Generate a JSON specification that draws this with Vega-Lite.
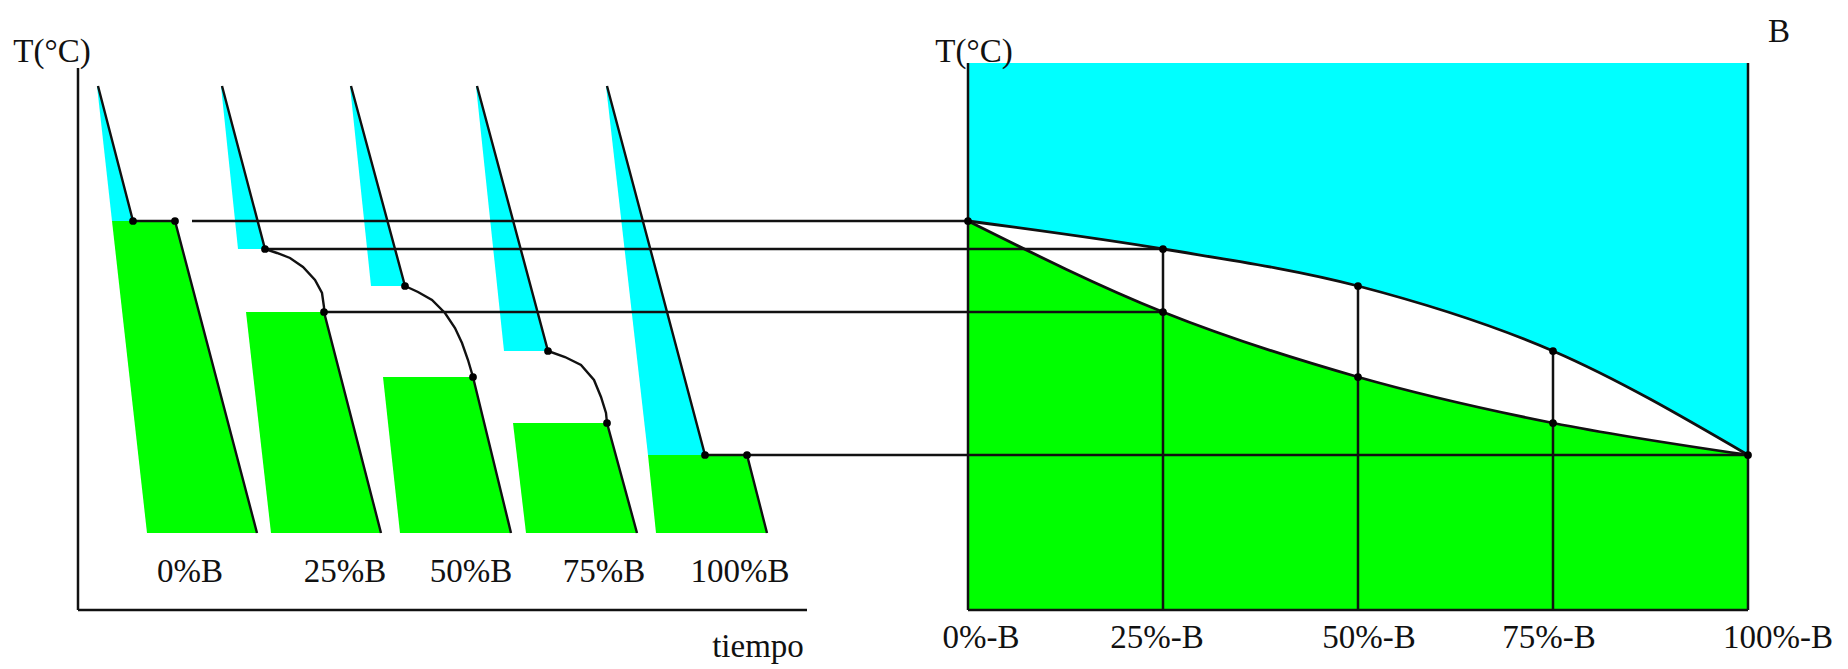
{
  "$schema": "https://vega.github.io/schema/vega-lite/v6.json",
  "width": 1848,
  "height": 669,
  "autosize": {"type": "fit", "contains": "padding"},
  "padding": 0,
  "background": "white",
  "config": {"view": {"stroke": null}},
  "datasets": {
    "bounds": [
      {"b": "liq", "x": 968, "T": 448},
      {"b": "liq", "x": 1163, "T": 420},
      {"b": "liq", "x": 1358, "T": 383},
      {"b": "liq", "x": 1553, "T": 318},
      {"b": "liq", "x": 1748, "T": 214},
      {"b": "sol", "x": 968, "T": 448},
      {"b": "sol", "x": 1163, "T": 357},
      {"b": "sol", "x": 1358, "T": 292},
      {"b": "sol", "x": 1553, "T": 246},
      {"b": "sol", "x": 1748, "T": 214}
    ],
    "blobs": [
      {"id": "c1", "phase": "L", "T": 583, "xl": 97, "xr": 98},
      {"id": "c1", "phase": "L", "T": 448, "xl": 112, "xr": 133},
      {"id": "s1", "phase": "S", "T": 448, "xl": 112, "xr": 175},
      {"id": "s1", "phase": "S", "T": 136, "xl": 147, "xr": 257},
      {"id": "c2", "phase": "L", "T": 583, "xl": 221, "xr": 222},
      {"id": "c2", "phase": "L", "T": 420, "xl": 238, "xr": 265},
      {"id": "s2", "phase": "S", "T": 357, "xl": 246, "xr": 324},
      {"id": "s2", "phase": "S", "T": 136, "xl": 271, "xr": 381},
      {"id": "c3", "phase": "L", "T": 583, "xl": 350, "xr": 351},
      {"id": "c3", "phase": "L", "T": 383, "xl": 371, "xr": 405},
      {"id": "s3", "phase": "S", "T": 292, "xl": 383, "xr": 473},
      {"id": "s3", "phase": "S", "T": 136, "xl": 400, "xr": 511},
      {"id": "c4", "phase": "L", "T": 583, "xl": 476, "xr": 477},
      {"id": "c4", "phase": "L", "T": 318, "xl": 504, "xr": 548},
      {"id": "s4", "phase": "S", "T": 246, "xl": 513, "xr": 607},
      {"id": "s4", "phase": "S", "T": 136, "xl": 526, "xr": 637},
      {"id": "c5", "phase": "L", "T": 583, "xl": 606, "xr": 607},
      {"id": "c5", "phase": "L", "T": 214, "xl": 648, "xr": 705},
      {"id": "s5", "phase": "S", "T": 214, "xl": 648, "xr": 747},
      {"id": "s5", "phase": "S", "T": 136, "xl": 656, "xr": 767}
    ],
    "curves": [
      {"curve": 1, "seq": 1, "x": 98, "T": 583},
      {"curve": 1, "seq": 2, "x": 133, "T": 448},
      {"curve": 1, "seq": 3, "x": 175, "T": 448},
      {"curve": 1, "seq": 4, "x": 257, "T": 136},
      {"curve": 2, "seq": 1, "x": 222, "T": 583},
      {"curve": 2, "seq": 2, "x": 265, "T": 420},
      {"curve": 2, "seq": 3, "x": 277, "T": 416},
      {"curve": 2, "seq": 4, "x": 290, "T": 411},
      {"curve": 2, "seq": 5, "x": 303, "T": 402},
      {"curve": 2, "seq": 6, "x": 315, "T": 389},
      {"curve": 2, "seq": 7, "x": 322, "T": 376},
      {"curve": 2, "seq": 8, "x": 324, "T": 362},
      {"curve": 2, "seq": 9, "x": 324, "T": 357},
      {"curve": 2, "seq": 10, "x": 381, "T": 136},
      {"curve": 3, "seq": 1, "x": 351, "T": 583},
      {"curve": 3, "seq": 2, "x": 405, "T": 383},
      {"curve": 3, "seq": 3, "x": 418, "T": 377},
      {"curve": 3, "seq": 4, "x": 432, "T": 369},
      {"curve": 3, "seq": 5, "x": 445, "T": 356},
      {"curve": 3, "seq": 6, "x": 455, "T": 341},
      {"curve": 3, "seq": 7, "x": 462, "T": 326},
      {"curve": 3, "seq": 8, "x": 468, "T": 309},
      {"curve": 3, "seq": 9, "x": 473, "T": 292},
      {"curve": 3, "seq": 10, "x": 511, "T": 136},
      {"curve": 4, "seq": 1, "x": 477, "T": 583},
      {"curve": 4, "seq": 2, "x": 548, "T": 318},
      {"curve": 4, "seq": 3, "x": 565, "T": 312},
      {"curve": 4, "seq": 4, "x": 581, "T": 304},
      {"curve": 4, "seq": 5, "x": 594, "T": 289},
      {"curve": 4, "seq": 6, "x": 601, "T": 272},
      {"curve": 4, "seq": 7, "x": 606, "T": 256},
      {"curve": 4, "seq": 8, "x": 607, "T": 246},
      {"curve": 4, "seq": 9, "x": 637, "T": 136},
      {"curve": 5, "seq": 1, "x": 607, "T": 583},
      {"curve": 5, "seq": 2, "x": 705, "T": 214},
      {"curve": 5, "seq": 3, "x": 747, "T": 214},
      {"curve": 5, "seq": 4, "x": 767, "T": 136}
    ],
    "segs": [
      {"x": 78, "x2": 807, "T": 59, "T2": 59},
      {"x": 78, "x2": 78, "T": 601, "T2": 59},
      {"x": 968, "x2": 1748, "T": 59, "T2": 59},
      {"x": 968, "x2": 968, "T": 606, "T2": 59},
      {"x": 1748, "x2": 1748, "T": 606, "T2": 59},
      {"x": 1163, "x2": 1163, "T": 420, "T2": 59},
      {"x": 1358, "x2": 1358, "T": 383, "T2": 59},
      {"x": 1553, "x2": 1553, "T": 318, "T2": 59},
      {"x": 192, "x2": 968, "T": 448, "T2": 448},
      {"x": 265, "x2": 1163, "T": 420, "T2": 420},
      {"x": 324, "x2": 1163, "T": 357, "T2": 357},
      {"x": 747, "x2": 1748, "T": 214, "T2": 214}
    ],
    "dots": [
      {"x": 133, "T": 448}, {"x": 175, "T": 448},
      {"x": 265, "T": 420}, {"x": 324, "T": 357},
      {"x": 405, "T": 383}, {"x": 473, "T": 292},
      {"x": 548, "T": 318}, {"x": 607, "T": 246},
      {"x": 705, "T": 214}, {"x": 747, "T": 214},
      {"x": 968, "T": 448}, {"x": 1163, "T": 420}, {"x": 1163, "T": 357},
      {"x": 1358, "T": 383}, {"x": 1358, "T": 292},
      {"x": 1553, "T": 318}, {"x": 1553, "T": 246}, {"x": 1748, "T": 214}
    ],
    "labels": [
      {"label": "T(°C)", "x": 52, "T": 607},
      {"label": "T(°C)", "x": 974, "T": 607},
      {"label": "B", "x": 1779, "T": 627},
      {"label": "tiempo", "x": 758, "T": 12},
      {"label": "0%B", "x": 190, "T": 87},
      {"label": "25%B", "x": 345, "T": 87},
      {"label": "50%B", "x": 471, "T": 87},
      {"label": "75%B", "x": 604, "T": 87},
      {"label": "100%B", "x": 740, "T": 87},
      {"label": "0%-B", "x": 981, "T": 21},
      {"label": "25%-B", "x": 1157, "T": 21},
      {"label": "50%-B", "x": 1369, "T": 21},
      {"label": "75%-B", "x": 1549, "T": 21},
      {"label": "100%-B", "x": 1778, "T": 21}
    ]
  },
  "layer": [
    {
      "data": {"name": "bounds"},
      "transform": [{"filter": "datum.b === 'liq'"}],
      "mark": {"type": "area", "color": "#00ffff", "interpolate": "monotone", "opacity": 1},
      "encoding": {
        "x": {"field": "x", "type": "quantitative", "scale": {"domain": [0, 1848], "nice": false, "zero": false}, "axis": null},
        "y": {"field": "T", "type": "quantitative", "scale": {"domain": [0, 669], "nice": false, "zero": false}, "axis": null},
        "y2": {"datum": 606}
      }
    },
    {
      "data": {"name": "bounds"},
      "transform": [{"filter": "datum.b === 'sol'"}],
      "mark": {"type": "area", "color": "#00ff00", "interpolate": "monotone", "opacity": 1},
      "encoding": {
        "x": {"field": "x", "type": "quantitative"},
        "y": {"field": "T", "type": "quantitative"},
        "y2": {"datum": 59}
      }
    },
    {
      "data": {"name": "blobs"},
      "mark": {"type": "area", "orient": "horizontal", "opacity": 1},
      "encoding": {
        "y": {"field": "T", "type": "quantitative"},
        "x": {"field": "xl", "type": "quantitative"},
        "x2": {"field": "xr"},
        "detail": {"field": "id"},
        "color": {"field": "phase", "type": "nominal", "scale": {"domain": ["L", "S"], "range": ["#00ffff", "#00ff00"]}, "legend": null}
      }
    },
    {
      "data": {"name": "segs"},
      "mark": {"type": "rule", "color": "#111111", "strokeWidth": 2.5},
      "encoding": {
        "x": {"field": "x", "type": "quantitative"},
        "x2": {"field": "x2"},
        "y": {"field": "T", "type": "quantitative"},
        "y2": {"field": "T2"}
      }
    },
    {
      "data": {"name": "bounds"},
      "mark": {"type": "line", "color": "#111111", "strokeWidth": 2.8, "interpolate": "monotone"},
      "encoding": {
        "x": {"field": "x", "type": "quantitative"},
        "y": {"field": "T", "type": "quantitative"},
        "detail": {"field": "b"}
      }
    },
    {
      "data": {"name": "curves"},
      "mark": {"type": "line", "color": "#111111", "strokeWidth": 2.4},
      "encoding": {
        "x": {"field": "x", "type": "quantitative"},
        "y": {"field": "T", "type": "quantitative"},
        "detail": {"field": "curve"},
        "order": {"field": "seq", "type": "quantitative"}
      }
    },
    {
      "data": {"name": "dots"},
      "mark": {"type": "point", "filled": true, "color": "#000000", "size": 60, "opacity": 1},
      "encoding": {
        "x": {"field": "x", "type": "quantitative"},
        "y": {"field": "T", "type": "quantitative"}
      }
    },
    {
      "data": {"name": "labels"},
      "mark": {"type": "text", "font": "Liberation Serif", "fontSize": 33, "align": "center", "baseline": "alphabetic", "color": "#111111"},
      "encoding": {
        "x": {"field": "x", "type": "quantitative"},
        "y": {"field": "T", "type": "quantitative"},
        "text": {"field": "label"}
      }
    }
  ]
}
